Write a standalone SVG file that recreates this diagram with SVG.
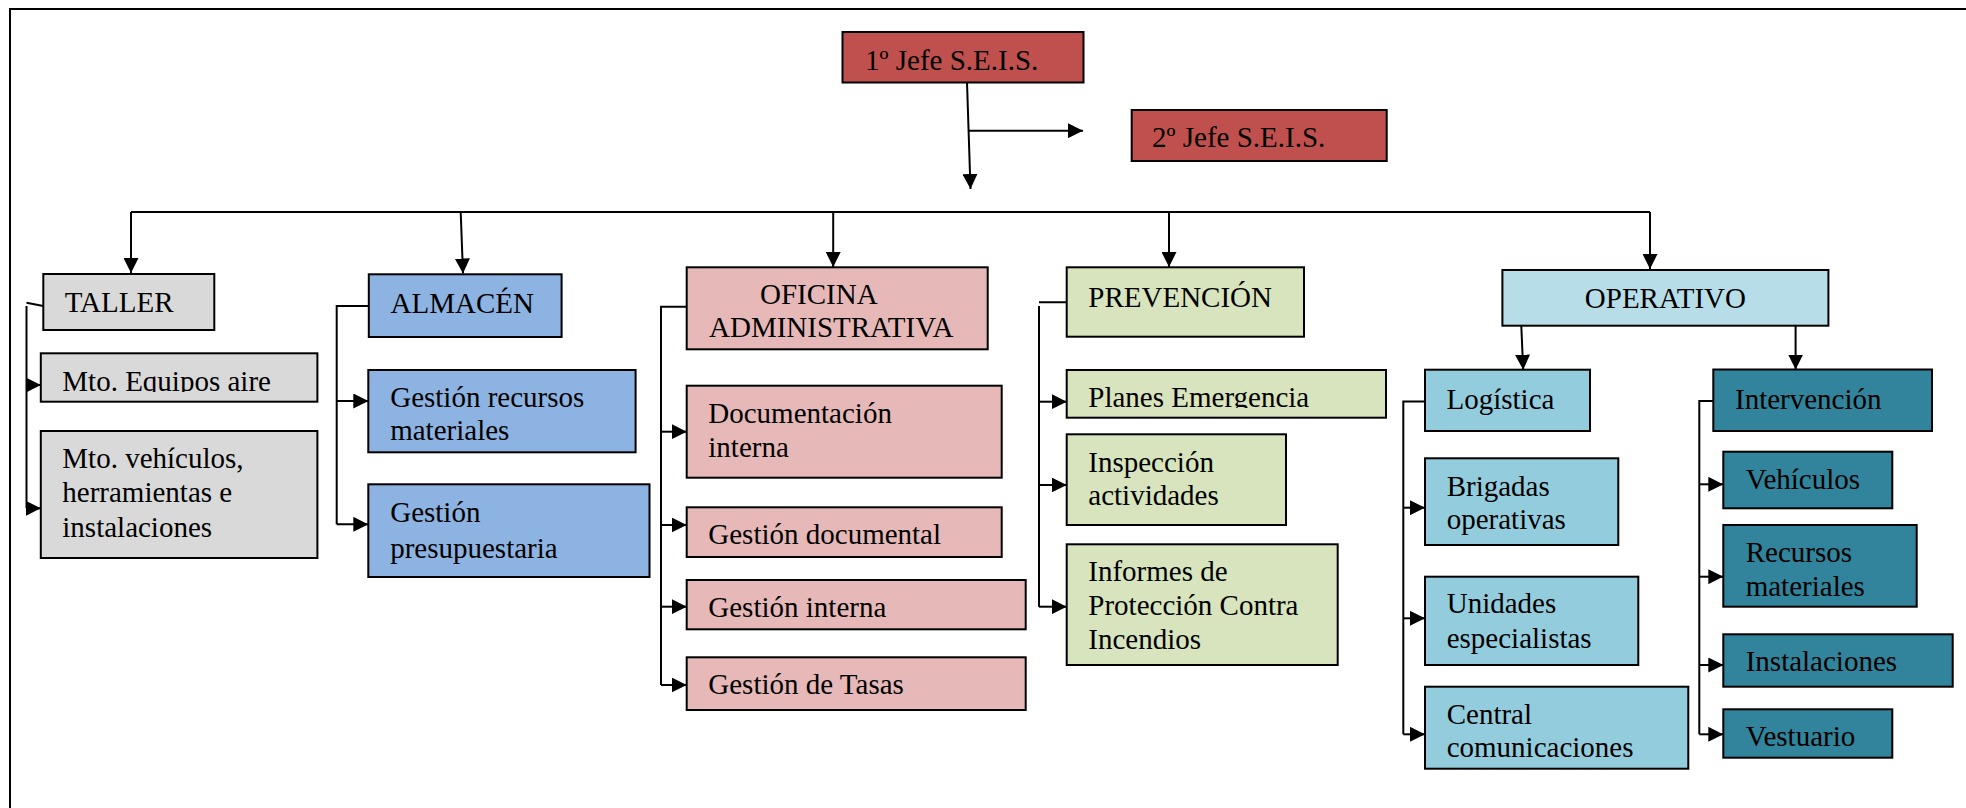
<svg xmlns="http://www.w3.org/2000/svg" width="1966" height="808" viewBox="0 0 1966 808">
<style>
.b{stroke:#000;stroke-width:2}
.t{font-family:"Liberation Serif","Times New Roman",serif;font-size:29px;fill:#000}
.c{fill:none;stroke:#000;stroke-width:2}
.a{fill:none;stroke:#000;stroke-width:2;marker-end:url(#ah)}
.red{fill:#C0504D}.gray{fill:#D9D9D9}.blue{fill:#8DB3E2}.pink{fill:#E6B9B8}.green{fill:#D7E4BD}.lb{fill:#B7DEE8}.mb{fill:#93CDDD}.teal{fill:#31849B}
</style>
<defs>
<marker id="ah" markerUnits="userSpaceOnUse" markerWidth="15" markerHeight="15" refX="15" refY="7.5" orient="auto">
<path d="M0,0 L15,7.5 L0,15 z" fill="#000"/>
</marker>
<clipPath id="clipMto"><rect x="40" y="353" width="278" height="39"/></clipPath>
<clipPath id="clipPlanes"><rect x="1066" y="370" width="320" height="38"/></clipPath>
</defs>
<rect width="1966" height="808" fill="#fff"/>
<path class="c" d="M10,808 V9 H1966"/>

<g id="connectors">
<path class="a" d="M967,82.3 L970.5,189"/>
<path class="a" d="M969,130.7 H1083"/>
<path class="c" d="M131,212 H1650"/>
<path class="a" d="M131,212 V273"/>
<path class="a" d="M460.7,212 L463,273.5"/>
<path class="a" d="M833.2,212 V267"/>
<path class="a" d="M1169,212 V267"/>
<path class="a" d="M1650,212 V269"/>
<path class="c" d="M26.5,302.7 L43.3,306 M26.5,306 V508.3"/>
<path class="a" d="M26.5,385 H40.8"/>
<path class="a" d="M26.5,508.3 H40.8"/>
<path class="c" d="M368.8,306 H336.7 V524.3"/>
<path class="a" d="M336.7,401 H368.3"/>
<path class="a" d="M336.7,524.3 H368.3"/>
<path class="c" d="M686.7,306.7 H661 V685"/>
<path class="a" d="M661,431.7 H686.7"/>
<path class="a" d="M661,525 H686.7"/>
<path class="a" d="M661,606.7 H686.7"/>
<path class="a" d="M661,685 H686.7"/>
<path class="c" d="M1039,302.3 H1066.7 M1039,306 V606.7"/>
<path class="a" d="M1039,401.7 H1066.7"/>
<path class="a" d="M1039,485 H1066.7"/>
<path class="a" d="M1039,606.7 H1066.7"/>
<path class="a" d="M1521.3,325.7 L1523.2,369.7"/>
<path class="a" d="M1795.6,325.7 V369.5"/>
<path class="c" d="M1425,401.5 H1403.3 V734.3"/>
<path class="a" d="M1403.3,507.7 H1425"/>
<path class="a" d="M1403.3,618.3 H1425"/>
<path class="a" d="M1403.3,734.3 H1425"/>
<path class="c" d="M1713.3,401 H1699.3 V734.3"/>
<path class="a" d="M1699.3,484.3 H1723.3"/>
<path class="a" d="M1699.3,576.7 H1723.3"/>
<path class="a" d="M1699.3,665 H1723.3"/>
<path class="a" d="M1699.3,734.3 H1723.3"/>
</g>

<g id="jefe1"><rect class="b red" x="842.5" y="32" width="241" height="50.5"/><text class="t" x="865" y="70">1º Jefe S.E.I.S.</text></g>
<g id="jefe2"><rect class="b red" x="1131.7" y="110" width="255" height="51"/><text class="t" x="1152" y="146.7">2º Jefe S.E.I.S.</text></g>

<g id="taller"><rect class="b gray" x="43.3" y="274" width="171" height="56"/><text class="t" x="64.7" y="311.7">TALLER</text></g>
<g id="mto-equipos"><rect class="b gray" x="40.8" y="353.3" width="276.6" height="48.4"/><text class="t" x="62.3" y="391" clip-path="url(#clipMto)">Mto. Equipos aire</text></g>
<g id="mto-vehiculos"><rect class="b gray" x="40.8" y="431" width="276.6" height="127"/><text class="t" x="62.3" y="468">Mto. vehículos,</text><text class="t" x="62.3" y="502">herramientas e</text><text class="t" x="62.3" y="536.7">instalaciones</text></g>

<g id="almacen"><rect class="b blue" x="368.8" y="274.3" width="192.8" height="62.7"/><text class="t" x="390.6" y="313.3">ALMACÉN</text></g>
<g id="gestion-recursos"><rect class="b blue" x="368.3" y="370" width="267.3" height="82.3"/><text class="t" x="390.2" y="407.3">Gestión recursos</text><text class="t" x="390.2" y="440">materiales</text></g>
<g id="gestion-presupuestaria"><rect class="b blue" x="368.3" y="484.3" width="281.2" height="92.7"/><text class="t" x="390.2" y="521.7">Gestión</text><text class="t" x="390.2" y="557.7">presupuestaria</text></g>

<g id="oficina"><rect class="b pink" x="686.7" y="267.3" width="301" height="82"/><text class="t" x="760" y="304">OFICINA</text><text class="t" x="709" y="337.3">ADMINISTRATIVA</text></g>
<g id="documentacion"><rect class="b pink" x="686.7" y="385.7" width="315" height="92"/><text class="t" x="708.3" y="422.7">Documentación</text><text class="t" x="708.3" y="457.3">interna</text></g>
<g id="gestion-documental"><rect class="b pink" x="686.7" y="507.3" width="315" height="49.7"/><text class="t" x="708.3" y="544.3">Gestión documental</text></g>
<g id="gestion-interna"><rect class="b pink" x="686.7" y="580" width="339" height="49.3"/><text class="t" x="708.3" y="616.7">Gestión interna</text></g>
<g id="gestion-tasas"><rect class="b pink" x="686.7" y="657.3" width="339" height="52.7"/><text class="t" x="708.3" y="694.3">Gestión de Tasas</text></g>

<g id="prevencion"><rect class="b green" x="1066.7" y="267.3" width="237.3" height="69.4"/><text class="t" x="1088.3" y="306.7">PREVENCIÓN</text></g>
<g id="planes"><rect class="b green" x="1066.7" y="370" width="319.3" height="47.7"/><text class="t" x="1088.3" y="406.7" clip-path="url(#clipPlanes)">Planes Emergencia</text></g>
<g id="inspeccion"><rect class="b green" x="1066.7" y="434.3" width="219.3" height="90.7"/><text class="t" x="1088.3" y="471.7">Inspección</text><text class="t" x="1088.3" y="505">actividades</text></g>
<g id="informes"><rect class="b green" x="1066.7" y="544.3" width="271" height="120.7"/><text class="t" x="1088.3" y="581">Informes de</text><text class="t" x="1088.3" y="615">Protección Contra</text><text class="t" x="1088.3" y="649">Incendios</text></g>

<g id="operativo"><rect class="b lb" x="1502.4" y="270" width="326" height="55.7"/><text class="t" x="1665.4" y="307.7" text-anchor="middle">OPERATIVO</text></g>
<g id="logistica"><rect class="b mb" x="1425" y="369.7" width="165" height="61.3"/><text class="t" x="1446.5" y="409.3">Logística</text></g>
<g id="brigadas"><rect class="b mb" x="1425" y="458.3" width="193.3" height="86.7"/><text class="t" x="1446.7" y="495.7">Brigadas</text><text class="t" x="1446.7" y="529">operativas</text></g>
<g id="unidades"><rect class="b mb" x="1425" y="576.7" width="213.3" height="88.3"/><text class="t" x="1446.7" y="613.3">Unidades</text><text class="t" x="1446.7" y="647.7">especialistas</text></g>
<g id="central"><rect class="b mb" x="1425" y="686.7" width="263.3" height="82"/><text class="t" x="1446.7" y="724">Central</text><text class="t" x="1446.7" y="757.3">comunicaciones</text></g>

<g id="intervencion"><rect class="b teal" x="1713.3" y="369.5" width="218.7" height="61.5"/><text class="t" x="1735" y="409.3">Intervención</text></g>
<g id="vehiculos"><rect class="b teal" x="1723.3" y="451.7" width="169" height="56.6"/><text class="t" x="1745.7" y="489.3">Vehículos</text></g>
<g id="recursos-materiales"><rect class="b teal" x="1723.3" y="525" width="193.4" height="81.7"/><text class="t" x="1745.7" y="561.7">Recursos</text><text class="t" x="1745.7" y="595.7">materiales</text></g>
<g id="instalaciones"><rect class="b teal" x="1723.3" y="634.3" width="229.4" height="52.4"/><text class="t" x="1745.7" y="670.7">Instalaciones</text></g>
<g id="vestuario"><rect class="b teal" x="1723.3" y="709.3" width="169" height="48.4"/><text class="t" x="1745.7" y="746">Vestuario</text></g>
</svg>
